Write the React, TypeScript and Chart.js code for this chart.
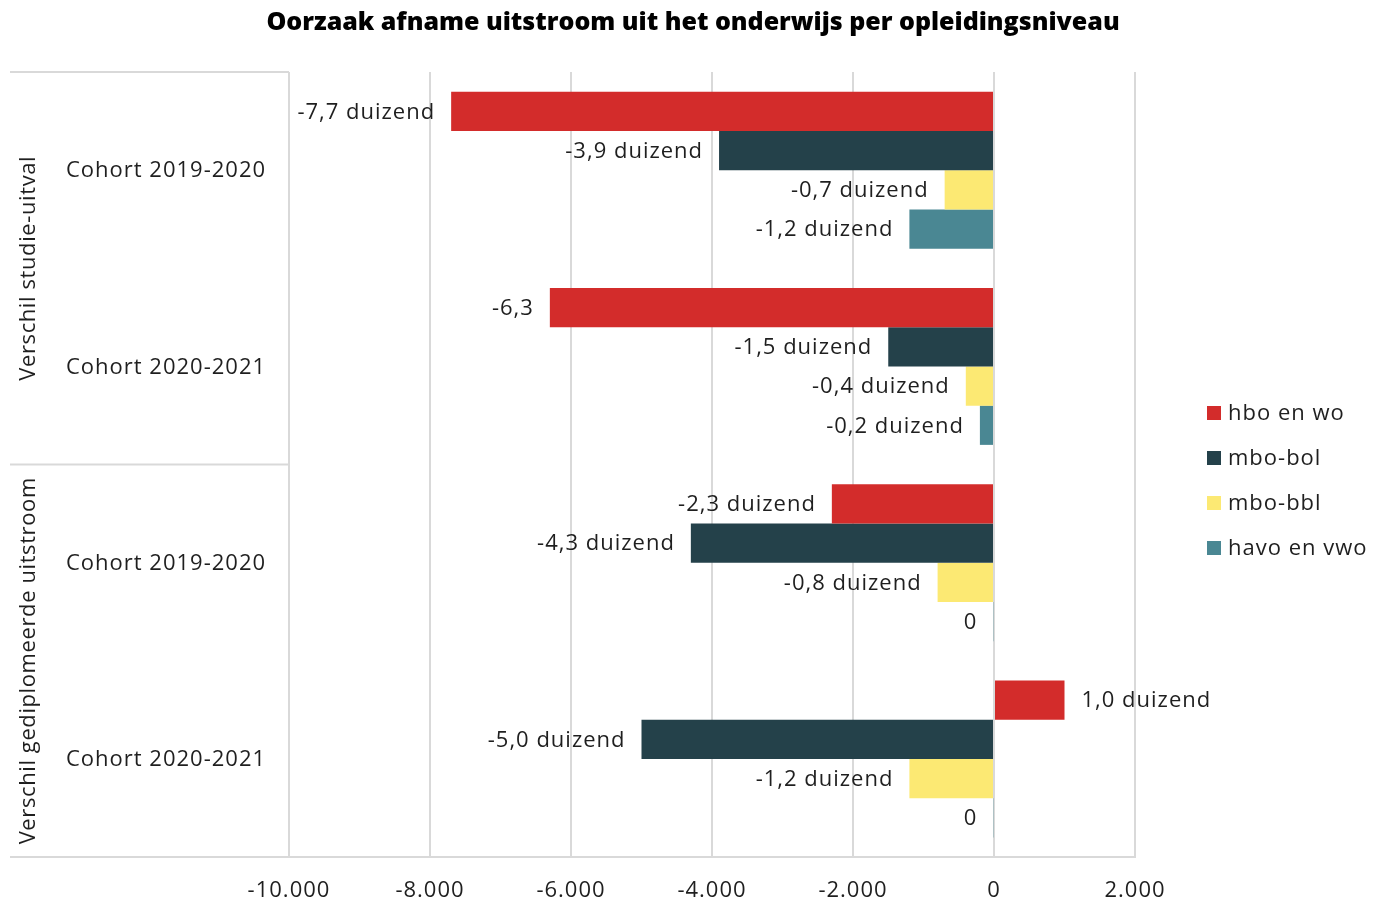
import React, { useEffect, useRef } from "react";
import { Chart, registerables } from "chart.js";

Chart.register(...registerables);

const TITLE = "Oorzaak afname uitstroom uit het onderwijs per opleidingsniveau";
const GROUPS = ["Verschil studie-uitval", "Verschil gediplomeerde uitstroom"];
const CATEGORIES = ["Cohort 2019-2020", "Cohort 2020-2021", "Cohort 2019-2020", "Cohort 2020-2021"];
const SERIES_NAMES = ["hbo en wo", "mbo-bol", "mbo-bbl", "havo en vwo"];
const SERIES_COLORS = ["#D32C2B", "#24414A", "#FCE973", "#4A8793"];

const hboWo = [-7700, -6300, -2300, 1000];
const mboBol = [-3900, -1500, -4300, -5000];
const mboBbl = [-700, -400, -800, -1200];
const havoVwo = [-1200, -200, -10, -10];

const hboWoLabels = ["-7,7 duizend", "-6,3", "-2,3 duizend", "1,0 duizend"];
const mboBolLabels = ["-3,9 duizend", "-1,5 duizend", "-4,3 duizend", "-5,0 duizend"];
const mboBblLabels = ["-0,7 duizend", "-0,4 duizend", "-0,8 duizend", "-1,2 duizend"];
const havoVwoLabels = ["-1,2 duizend", "-0,2 duizend", "0", "0"];

const X_MIN = -10000;
const X_MAX = 2000;
const X_STEP = 2000;

const FONT = "'Open Sans', Lato, sans-serif";
const TEXT = "#1f1f1f";
const LINE = "#d9d9d9";
const SPACING = "1px";

const SERIES_VALUES = [hboWo, mboBol, mboBbl, havoVwo];
const SERIES_LABELS = [hboWoLabels, mboBolLabels, mboBblLabels, havoVwoLabels];

const fmtTick = (v: number) => {
  const s = Math.abs(v).toString().replace(/\B(?=(\d{3})+(?!\d))/g, ".");
  return (v < 0 ? "-" : "") + s;
};

// Wider letter spacing for every text on the canvas, axis ticks included.
const spacing = {
  id: "spacing",
  beforeDraw(chart: any) {
    chart.ctx.letterSpacing = SPACING;
  },
};

// Draws title, two-level category axis, bar value labels and the legend.
const decorations = {
  id: "decorations",
  afterDatasetsDraw(chart: any) {
    const { ctx, chartArea } = chart;
    const yScale = chart.scales.y;
    ctx.save();
    ctx.letterSpacing = SPACING;

    // bar value labels
    ctx.font = `22px ${FONT}`;
    ctx.fillStyle = TEXT;
    ctx.textBaseline = "middle";
    chart.data.datasets.forEach((ds: any, di: number) => {
      const meta = chart.getDatasetMeta(di);
      meta.data.forEach((bar: any, i: number) => {
        const v = ds.data[i];
        const txt = SERIES_LABELS[di][i];
        if (v < 0) {
          ctx.textAlign = "right";
          ctx.fillText(txt, bar.x - 16, bar.y + 1);
        } else {
          ctx.textAlign = "left";
          ctx.fillText(txt, bar.x + 17, bar.y + 1);
        }
      });
    });

    // title
    ctx.letterSpacing = "0px";
    ctx.font = `800 25px ${FONT}`;
    ctx.textAlign = "center";
    ctx.fillStyle = "#000";
    ctx.fillText(TITLE, 693, 23);
    ctx.letterSpacing = SPACING;

    // category axis: inner labels
    ctx.font = `22px ${FONT}`;
    ctx.fillStyle = TEXT;
    ctx.textAlign = "left";
    CATEGORIES.forEach((c, i) => {
      ctx.fillText(c, 66, yScale.getPixelForValue(i) + 1);
    });

    // group separators
    ctx.strokeStyle = LINE;
    ctx.lineWidth = 2;
    const top = chartArea.top;
    const bottom = chartArea.bottom;
    const mid = (yScale.getPixelForValue(1) + yScale.getPixelForValue(2)) / 2;
    [top, mid, bottom].forEach((y) => {
      ctx.beginPath();
      ctx.moveTo(10, y);
      ctx.lineTo(chartArea.left, y);
      ctx.stroke();
    });

    // group labels, rotated
    ctx.letterSpacing = "0.6px";
    const groupCenters = [(top + mid) / 2, (mid + bottom) / 2];
    GROUPS.forEach((g, i) => {
      ctx.save();
      ctx.translate(29, groupCenters[i]);
      ctx.rotate(-Math.PI / 2);
      ctx.textAlign = "center";
      ctx.textBaseline = "middle";
      ctx.fillText(g, 0, 0);
      ctx.restore();
    });
    ctx.letterSpacing = SPACING;

    // legend
    ctx.textAlign = "left";
    ctx.textBaseline = "middle";
    SERIES_NAMES.forEach((n, i) => {
      const y = 413 + i * 45;
      ctx.fillStyle = SERIES_COLORS[i];
      ctx.fillRect(1207, y - 7, 14, 14);
      ctx.fillStyle = TEXT;
      ctx.fillText(n, 1228, y + 1);
    });

    ctx.restore();
  },
};

export default function App() {
  const canvasRef = useRef<HTMLCanvasElement | null>(null);

  useEffect(() => {
    document.body.style.margin = "0";
    const canvas = canvasRef.current;
    if (!canvas) return;
    const chart = new Chart(canvas, {
      type: "bar",
      data: {
        labels: CATEGORIES,
        datasets: SERIES_NAMES.map((name, i) => ({
          label: name,
          data: SERIES_VALUES[i],
          backgroundColor: SERIES_COLORS[i],
          borderWidth: 0,
          barPercentage: 1,
          categoryPercentage: 0.8,
        })),
      },
      options: {
        indexAxis: "y",
        responsive: false,
        animation: false,
        devicePixelRatio: 1,
        layout: { padding: { top: 72, right: 245, left: 0, bottom: 0 } },
        plugins: {
          legend: { display: false },
          title: { display: false },
          tooltip: { enabled: false },
        },
        scales: {
          y: {
            ticks: { display: false },
            grid: { display: false },
            border: { display: false },
            afterFit: (scale: any) => {
              scale.width = 289;
            },
          },
          x: {
            min: X_MIN,
            max: X_MAX,
            ticks: {
              stepSize: X_STEP,
              callback: (v: any) => fmtTick(Number(v)),
              font: { family: FONT, size: 22 },
              color: TEXT,
              padding: 21,
            },
            grid: {
              color: LINE,
              lineWidth: 2,
              drawTicks: false,
            },
            border: { display: true, color: LINE, width: 2 },
            afterFit: (scale: any) => {
              scale.height = 45;
            },
          },
        },
      },
      plugins: [spacing, decorations],
    });
    return () => chart.destroy();
  }, []);

  return (
    <canvas
      ref={canvasRef}
      width={1380}
      height={902}
      style={{ display: "block", width: 1380, height: 902 }}
    />
  );
}
